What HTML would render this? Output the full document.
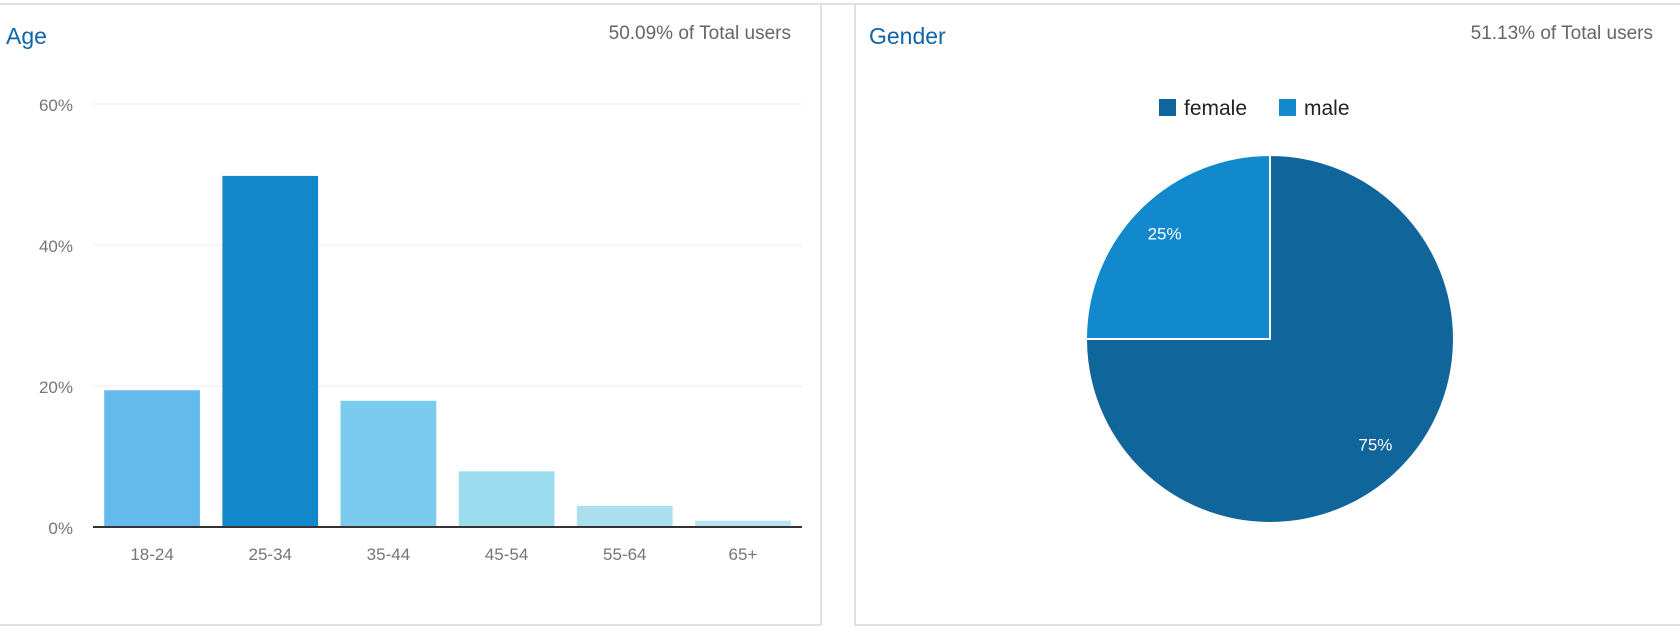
<!DOCTYPE html>
<html><head><meta charset="utf-8"><style>
body{margin:0;width:1680px;height:630px;background:#fff;overflow:hidden;font-family:"Liberation Sans",sans-serif;}
</style></head><body>
<svg width="1680" height="630">
<line x1="0" y1="4" x2="1680" y2="4" stroke="#e0e0e0" stroke-width="2"/>
<rect x="-1" y="4" width="822" height="621" fill="none" stroke="#e0e0e0" stroke-width="2"/>
<rect x="855" y="4" width="830" height="621" fill="none" stroke="#e0e0e0" stroke-width="2"/>
<text x="6" y="44" font-size="23" fill="#0f65a8">Age</text>
<text x="791" y="39" font-size="19" fill="#666" text-anchor="end">50.09% of Total users</text>
<text x="869" y="44" font-size="23" fill="#0f65a8">Gender</text>
<text x="1653" y="39" font-size="19" fill="#666" text-anchor="end">51.13% of Total users</text>
<g id="bar"></g>
<g id="pie"></g>
</svg>
<script>
const categories=["18-24","25-34","35-44","45-54","55-64","65+"];
const values=[19.4,49.8,17.9,7.9,3.0,0.9];
const ticks=[0,20,40,60];
const tickLabels=["0%","20%","40%","60%"];
const genders=["female","male"];
const genderValues=[75,25];
const NS="http://www.w3.org/2000/svg";
function mk(p,t,a){const e=document.createElementNS(NS,t);for(const k in a)e.setAttribute(k,a[k]);p.appendChild(e);return e;}
const barG=document.getElementById('bar');
const x0=93,x1=802,y0=527,y60=104;
const y=v=>y0-(v/60)*(y0-y60);
const band=(x1-x0)/categories.length;
const colors=["#64b9ed","#1288cb","#7acbee","#9cdcef","#abdff0","#b8e4f4"];
ticks.forEach((t,i)=>{
 if(t>0){const l=mk(barG,'line',{x1:x0,x2:x1,y1:y(t),y2:y(t),stroke:'#ececec','stroke-width':1});
 
 }
 const tx=mk(barG,'text',{x:73,y:y(t)+7,'font-size':17,fill:'#757575','text-anchor':'end'});tx.textContent=tickLabels[i];
 
 
});
categories.forEach((c,i)=>{
 const bw=band*0.81,bx=x0+band*i+(band-bw)/2;
 const r=mk(barG,'rect',{x:bx,y:y(values[i]),width:bw,height:y0-y(values[i]),fill:colors[i]});
 
 
 const t=mk(barG,'text',{x:bx+bw/2,y:560,'font-size':17,fill:'#757575','text-anchor':'middle'});t.textContent=c;
 
 
});
const ax=mk(barG,'line',{x1:x0,x2:x1,y1:y0,y2:y0,stroke:'#333','stroke-width':2});


// pie
const pieG=document.getElementById('pie');
const cx=1270,cy=339,R=184,pc=["#10659a","#1289cd"];
const total=genderValues.reduce((a,b)=>a+b,0);
let a0=0;
genderValues.forEach((v,i)=>{
 const a1=a0+v/total*2*Math.PI;
 const p=(a)=>[cx+R*Math.sin(a),cy-R*Math.cos(a)];
 const [sx,sy]=p(a0),[ex,ey]=p(a1);
 const path=mk(pieG,'path',{d:`M${cx},${cy} L${sx},${sy} A${R},${R} 0 ${a1-a0>Math.PI?1:0} 1 ${ex},${ey} Z`,fill:pc[i],stroke:'#fff','stroke-width':2});
 
 
 const m=(a0+a1)/2,lr=R*0.81;
 const t=mk(pieG,'text',{x:cx+lr*Math.sin(m),y:cy-lr*Math.cos(m)+6,'font-size':17,fill:'#fff','text-anchor':'middle'});
 t.textContent=Math.round(v/total*100)+'%';
 
 
 const lx=[1159,1279][i];
 const sq=mk(pieG,'rect',{x:lx,y:99,width:17,height:17,fill:pc[i]});
 
 
 const lt=mk(pieG,'text',{x:lx+25,y:115,'font-size':21,fill:'#222'});lt.textContent=genders[i];
 
 
 a0=a1;
});
</script>
</body></html>
